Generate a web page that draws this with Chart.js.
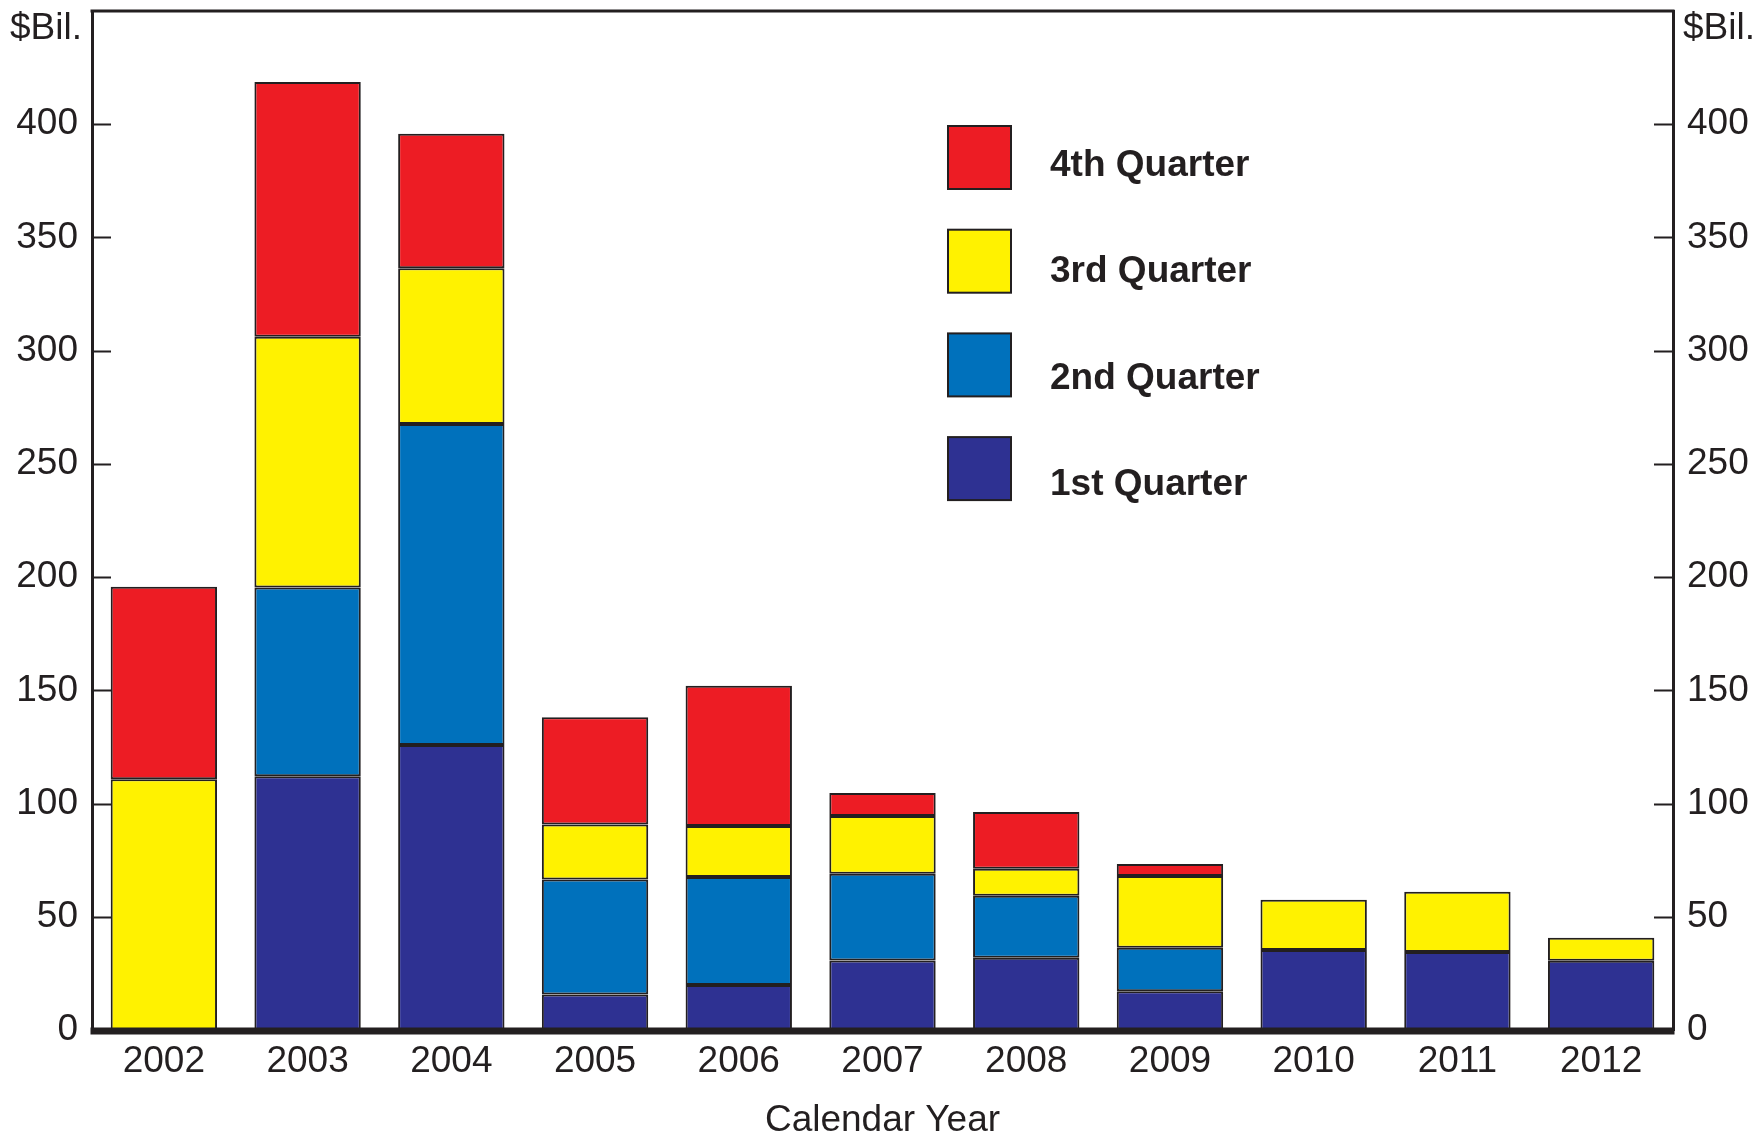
<!DOCTYPE html>
<html>
<head>
<meta charset="utf-8">
<title>Calendar Year by Quarter</title>
<script src="https://cdn.jsdelivr.net/npm/chart.js@4.4.1/dist/chart.umd.min.js"></script>
<style>
  html, body { margin: 0; padding: 0; background: #fff; }
  canvas { display: block; }
</style>
</head>
<body>
<canvas id="chart" width="1756" height="1134"></canvas>
<script>
// values in $ billions (null = no segment)
const years = ["2002", "2003", "2004", "2005", "2006", "2007", "2008", "2009", "2010", "2011", "2012"];
const q1 = [null, 112.1, 125.9, 15.7, 19.9, 30.7, 31.9, 17.1, 35.3, 34.5, 30.6];
const q2 = [null, 83.3, 141.7, 50.8, 47.7, 38.3, 27.4, 19.2, null, null, null];
const q3 = [110.7, 110.7, 68.8, 24.2, 22.5, 25.5, 11.9, 31.7, 22.2, 26.5, 10.1];
const q4 = [85.0, 112.5, 59.4, 47.4, 61.9, 10.2, 25.1, 5.3, null, null, null];
const seriesNames = ["1st Quarter", "2nd Quarter", "3rd Quarter", "4th Quarter"];
const yTickValues = [0, 50, 100, 150, 200, 250, 300, 350, 400];
const unitLabel = "$Bil.";
const xTitle = "Calendar Year";

const colors = ["#2E3192", "#0071BC", "#FFF200", "#ED1C24"];
const ink = "#231F20";
const fam = "'Liberation Sans', Arial, Helvetica, sans-serif";

Chart.defaults.font.family = fam;
Chart.defaults.color = ink;

function makeSet(i, values) {
    return {
        label: seriesNames[i],
        data: values,
        backgroundColor: colors[i],
        borderColor: ink,
        borderWidth: 2,
        borderSkipped: false,
        barPercentage: 0.74,
        categoryPercentage: 1.0
    }
}

function keepTicks(scale) {
    scale.ticks = yTickValues.map(v => ({ value: v }))
}

// y axes: fixed width, no extra room for half labels
function fitY(width) {
    return s => {
        s.width = width;
        s.paddingTop = 0;
        s.paddingBottom = 0;
    }
}

// frame, thick baseline, inward tick marks, unit labels and the legend
const extras = {
    id: "extras",
    afterDraw(chart) {
        const ctx = chart.ctx;
        const area = chart.chartArea;
        const y = chart.scales.y;
        ctx.save();

        ctx.strokeStyle = ink;
        ctx.lineWidth = 3;
        ctx.beginPath();
        ctx.moveTo(area.left - 1.5, area.top);
        ctx.lineTo(area.right + 1.5, area.top);
        ctx.stroke();

        // baseline sits on top of the bars
        ctx.lineWidth = 7;
        ctx.beginPath();
        ctx.moveTo(area.left - 1.5, area.bottom + 1);
        ctx.lineTo(area.right + 1.5, area.bottom + 1);
        ctx.stroke();

        ctx.lineWidth = 2;
        ctx.beginPath();
        y.ticks.forEach(t => {
            if (t.value == 0) return;
            const py = Math.round(y.getPixelForValue(t.value)) + 0.5;
            ctx.moveTo(area.left, py);
            ctx.lineTo(area.left + 19, py);
            ctx.moveTo(area.right, py);
            ctx.lineTo(area.right - 19, py);
        });
        ctx.stroke();

        ctx.fillStyle = ink;
        ctx.font = "37px " + fam;
        ctx.textBaseline = "alphabetic";
        ctx.textAlign = "right";
        ctx.fillText(unitLabel, area.left - 10, 39);
        ctx.textAlign = "left";
        ctx.fillText(unitLabel, area.right + 10, 39);

        // legend, top entry is the last dataset
        const sets = chart.data.datasets.slice().reverse();
        ctx.font = "bold 37px " + fam;
        sets.forEach((ds, i) => {
            const top = 126 + i * 103.7;
            ctx.fillStyle = ds.backgroundColor;
            ctx.fillRect(948, top, 63, 63);
            ctx.lineWidth = 2;
            ctx.strokeStyle = ink;
            ctx.strokeRect(948, top, 63, 63);
            ctx.fillStyle = ink;
            ctx.fillText(ds.label, 1050, 176 + i * 106.3);
        });
        ctx.restore();
    }
};

const ctx = document.querySelector("#chart").getContext("2d");
const graph = new Chart(ctx, {
    type: "bar",
    data: {
        labels: years,
        datasets: [makeSet(0, q1), makeSet(1, q2), makeSet(2, q3), makeSet(3, q4)]
    },
    options: {
        responsive: false,
        animation: false,
        layout: { padding: { top: 11, left: 0, right: 0, bottom: 0 } },
        plugins: {
            legend: { display: false },
            tooltip: { enabled: false }
        },
        scales: {
            x: {
                stacked: true,
                grid: { display: false, drawTicks: false },
                border: { display: false },
                ticks: { font: { size: 37 }, color: ink, padding: 10, maxRotation: 0 },
                title: {
                    display: true,
                    text: xTitle,
                    font: { size: 37, lineHeight: 1 },
                    color: ink,
                    padding: { top: 0, bottom: -5 }
                },
                afterFit: s => { s.height = 104 }
            },
            y: {
                stacked: true,
                position: "left",
                min: 0,
                max: 450,
                grid: { display: false, drawTicks: false },
                border: { display: true, color: ink, width: 3 },
                ticks: { font: { size: 37 }, color: ink, padding: 14 },
                afterBuildTicks: keepTicks,
                afterFit: fitY(92)
            },
            y2: {
                position: "right",
                min: 0,
                max: 450,
                grid: { display: false, drawTicks: false },
                border: { display: true, color: ink, width: 3 },
                ticks: { font: { size: 37 }, color: ink, padding: 14 },
                afterBuildTicks: keepTicks,
                afterFit: fitY(83)
            }
        }
    },
    plugins: [extras]
});
</script>
</body>
</html>
